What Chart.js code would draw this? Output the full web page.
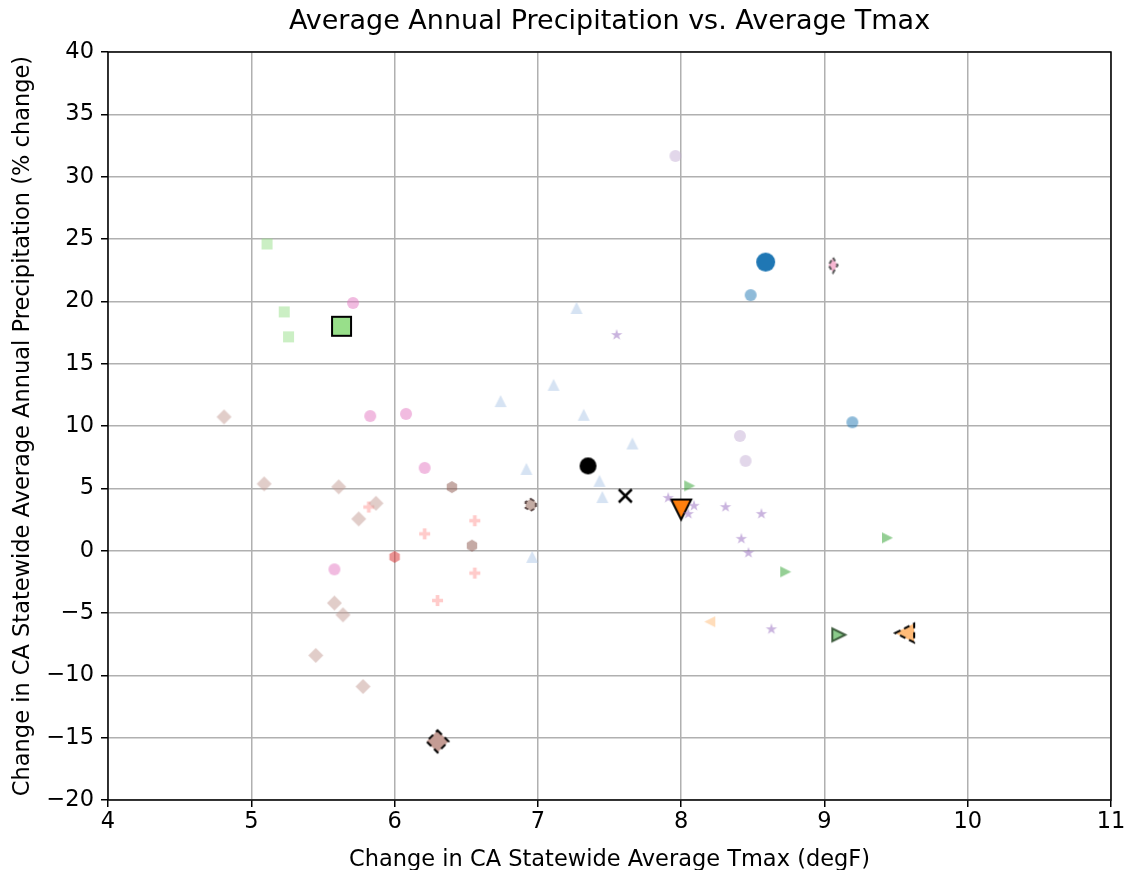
<!DOCTYPE html>
<html>
<head>
<meta charset="utf-8">
<script src="https://cdn.jsdelivr.net/npm/chart.js@4.4.1/dist/chart.umd.min.js"></script>
<style>
  html, body { margin: 0; padding: 0; background: #fff; }
  #wrap { width: 1127px; height: 870px; }
</style>
</head>
<body>
<div id="wrap"><canvas id="scatterChart" width="1127" height="870"></canvas></div>
<script>
// ---- data ----
const xTicks = [4, 5, 6, 7, 8, 9, 10, 11];
const yTicks = [-20, -15, -10, -5, 0, 5, 10, 15, 20, 25, 30, 35, 40];

const blueX = [8.485, 9.195];
const blueY = [20.5, 10.3];
const blueMeanX = [8.59];
const blueMeanY = [23.15];

const orangeMeanX = [8.0];
const orangeMeanY = [3.3];

const ltOrangeX = [8.2];
const ltOrangeY = [-5.7];
const ltOrangeMeanX = [9.56];
const ltOrangeMeanY = [-6.6];

const greenX = [8.06, 9.44, 8.73];
const greenY = [5.2, 1.03, -1.7];
const greenMeanX = [9.1];
const greenMeanY = [-6.75];

const ltGreenX = [5.11, 5.23, 5.26];
const ltGreenY = [24.6, 19.15, 17.15];
const ltGreenMeanX = [5.63];
const ltGreenMeanY = [18.0];

const redX = [6.0];
const redY = [-0.5];

const ltRedX = [5.82, 6.21, 6.56, 6.56, 6.3];
const ltRedY = [3.5, 1.35, 2.4, -1.8, -4.0];

const purpleX = [7.55, 7.91, 8.09, 8.05, 8.31, 8.56, 8.42, 8.47, 8.63];
const purpleY = [17.3, 4.23, 3.6, 2.95, 3.5, 2.95, 0.95, -0.18, -6.3];

const ltPurpleX = [7.96, 8.41, 8.45];
const ltPurpleY = [31.66, 9.2, 7.2];

const brownX = [6.4, 6.54];
const brownY = [5.1, 0.4];
const brownMeanX = [6.95];
const brownMeanY = [3.67];

const ltBrownX = [4.81, 5.09, 5.61, 5.87, 5.75, 5.58, 5.64, 5.45, 5.78];
const ltBrownY = [10.73, 5.36, 5.12, 3.8, 2.55, -4.2, -5.15, -8.4, -10.9];
const ltBrownMeanX = [6.3];
const ltBrownMeanY = [-15.3];

const pinkX = [5.71, 5.83, 6.08, 6.21, 5.58];
const pinkY = [19.87, 10.8, 10.97, 6.64, -1.5];

const ltPinkMeanX = [9.06];
const ltPinkMeanY = [22.9];

const ltBlueX = [7.27, 6.74, 7.11, 7.32, 7.66, 6.92, 7.43, 7.45, 6.96];
const ltBlueY = [19.47, 12.0, 13.3, 10.9, 8.6, 6.56, 5.6, 4.3, -0.5];

const ensMeanX = [7.35];
const ensMeanY = [6.8];
const ensMedianX = [7.61];
const ensMedianY = [4.4];

// ---- marker images ----
function marker(shape, size, fill, edge, lw, dash) {
    lw = lw || 0;
    const pad = Math.ceil(lw) + 2;
    const c = document.createElement('canvas');
    c.width = c.height = Math.ceil(size + 2 * pad);
    const ctx = c.getContext('2d');
    const r = size / 2;
    ctx.translate(c.width / 2, c.height / 2);
    ctx.beginPath();
    const poly = pts => { pts.forEach((p, i) => i ? ctx.lineTo(p[0], p[1]) : ctx.moveTo(p[0], p[1])); ctx.closePath(); };
    if (shape === 'o') ctx.arc(0, 0, r, 0, Math.PI * 2);
    else if (shape === 's') ctx.rect(-r, -r, size, size);
    else if (shape === '^') poly([[0, -r], [-r, r], [r, r]]);
    else if (shape === 'v') poly([[0, r], [-r, -r], [r, -r]]);
    else if (shape === '<') poly([[-r, 0], [r, -r], [r, r]]);
    else if (shape === '>') poly([[r, 0], [-r, -r], [-r, r]]);
    else if (shape === 'D') poly([[0, -r], [r, 0], [0, r], [-r, 0]]);
    else if (shape === 'd') poly([[0, -r], [r * 0.6, 0], [0, r], [-r * 0.6, 0]]);
    else if (shape === 'h') { const p = []; for (let k = 0; k < 6; k++) { const t = -Math.PI / 2 + k * Math.PI / 3; p.push([r * Math.cos(t), r * Math.sin(t)]); } poly(p); }
    else if (shape === '*') { const p = []; for (let k = 0; k < 10; k++) { const t = -Math.PI / 2 + k * Math.PI / 5; const rr = k % 2 ? r * 0.38 : r; p.push([rr * Math.cos(t), rr * Math.sin(t)]); } poly(p); }
    else if (shape === 'P') { const a = r / 3; poly([[-a, -r], [a, -r], [a, -a], [r, -a], [r, a], [a, a], [a, r], [-a, r], [-a, a], [-r, a], [-r, -a], [-a, -a]]); }
    else if (shape === 'x') { ctx.moveTo(-r, -r); ctx.lineTo(r, r); ctx.moveTo(r, -r); ctx.lineTo(-r, r); }
    if (fill && shape !== 'x') { ctx.fillStyle = fill; ctx.fill(); }
    if (edge && lw > 0) {
        ctx.strokeStyle = edge;
        ctx.lineWidth = lw;
        if (dash) ctx.setLineDash(dash);
        ctx.stroke();
    }
    return c;
}

function series(xs, ys, style) {
    return {
        data: xs.map((x, i) => ({ x: x, y: ys[i] })),
        pointStyle: style,
        pointRadius: style.width / 2,
        pointHoverRadius: style.width / 2
    };
}

const faded = 0.5;
const datasets = [
    series(ltBrownX, ltBrownY, marker('D', 15, 'rgba(196,156,148,' + faded + ')')),
    series(ltBlueX, ltBlueY, marker('^', 12, 'rgba(174,199,232,' + faded + ')')),
    series(pinkX, pinkY, marker('o', 12, 'rgba(227,119,194,' + faded + ')')),
    series(ltGreenX, ltGreenY, marker('s', 11, 'rgba(152,223,138,' + faded + ')')),
    series(blueX, blueY, marker('o', 12, 'rgba(31,119,180,' + faded + ')')),
    series(ltOrangeX, ltOrangeY, marker('<', 11, 'rgba(255,187,120,' + faded + ')')),
    series(greenX, greenY, marker('>', 11, 'rgba(44,160,44,' + faded + ')')),
    series(redX, redY, marker('h', 12, 'rgba(214,39,40,' + faded + ')')),
    series(ltRedX, ltRedY, marker('P', 11, 'rgba(255,152,150,' + faded + ')')),
    series(purpleX, purpleY, marker('*', 12, 'rgba(148,103,189,' + faded + ')')),
    series(ltPurpleX, ltPurpleY, marker('o', 12, 'rgba(197,176,213,' + faded + ')')),
    series(brownX, brownY, marker('h', 12, 'rgba(140,86,75,' + faded + ')')),

    series(blueMeanX, blueMeanY, marker('o', 19, '#1f77b4')),
    series(orangeMeanX, orangeMeanY, marker('v', 20, '#ff7f0e', '#000', 2)),
    series(ltOrangeMeanX, ltOrangeMeanY, marker('<', 19, '#ffbb78', '#000', 2, [6, 4])),
    series(greenMeanX, greenMeanY, marker('>', 13, 'rgba(44,160,44,0.55)', 'rgba(40,70,40,0.85)', 2)),
    series(ltGreenMeanX, ltGreenMeanY, marker('s', 19, '#98df8a', '#000', 2)),
    series(brownMeanX, brownMeanY, marker('h', 12, 'rgba(180,150,140,0.8)', 'rgba(60,40,40,0.8)', 2, [4, 3])),
    series(ltBrownMeanX, ltBrownMeanY, marker('D', 22, '#c49c94', '#000', 2, [6, 4])),
    series(ltPinkMeanX, ltPinkMeanY, marker('d', 15, '#f7b6d2', '#555', 2, [4, 3])),
    series(ensMeanX, ensMeanY, marker('o', 17, '#000')),
    series(ensMedianX, ensMedianY, marker('x', 13, null, '#000', 2.5))
];

const frame = {
    id: 'frame',
    afterDraw(chart) {
        const a = chart.chartArea, ctx = chart.ctx;
        ctx.save();
        ctx.strokeStyle = '#000';
        ctx.lineWidth = 1.5;
        ctx.strokeRect(a.left, a.top, a.right - a.left, a.bottom - a.top);
        ctx.fillStyle = '#000';
        ctx.font = '27px "DejaVu Sans"';
        ctx.textAlign = 'center';
        ctx.textBaseline = 'middle';
        ctx.fillText('Average Annual Precipitation vs. Average Tmax', (a.left + a.right) / 2, 22);
        ctx.restore();
    }
};

const minusFmt = v => String(v).replace('-', '\u2212');

Chart.defaults.font.family = '"DejaVu Sans"';
Chart.defaults.color = '#000';

const ctx = document.getElementById('scatterChart').getContext('2d');
new Chart(ctx, {
    type: 'scatter',
    data: { datasets: datasets },
    options: {
        responsive: false,
        animation: false,
        layout: { padding: { left: 10, right: 14, top: 52, bottom: -4 } },
        plugins: { legend: { display: false }, tooltip: { enabled: false } },
        scales: {
            x: {
                type: 'linear',
                min: xTicks[0],
                max: xTicks[xTicks.length - 1],
                afterBuildTicks: s => { s.ticks = xTicks.map(v => ({ value: v })); },
                afterFit: s => { s.height = 74; s.paddingRight = 0; s.paddingLeft = 0; },
                grid: { color: '#b0b0b0', lineWidth: 1.5, tickColor: '#000', tickLength: 7, tickWidth: 1.5 },
                border: { display: false },
                ticks: { font: { size: 22.5 }, padding: 2, maxRotation: 0, callback: minusFmt },
                title: { display: true, text: 'Change in CA Statewide Average Tmax (degF)', font: { size: 22.5 }, padding: { top: 0, bottom: 0 } }
            },
            y: {
                type: 'linear',
                min: yTicks[0],
                max: yTicks[yTicks.length - 1],
                afterBuildTicks: s => { s.ticks = yTicks.map(v => ({ value: v })); },
                afterFit: s => { s.width = 98; s.paddingTop = 0; s.paddingBottom = 0; },
                grid: { color: '#b0b0b0', lineWidth: 1.5, tickColor: '#000', tickLength: 7, tickWidth: 1.5 },
                border: { display: false },
                ticks: { font: { size: 22.5 }, padding: 7, callback: minusFmt },
                title: { display: true, text: 'Change in CA Statewide Average Annual Precipitation (% change)', font: { size: 22.5 }, padding: { top: 0, bottom: 0 } }
            }
        }
    },
    plugins: [frame]
});
</script>
</body>
</html>
